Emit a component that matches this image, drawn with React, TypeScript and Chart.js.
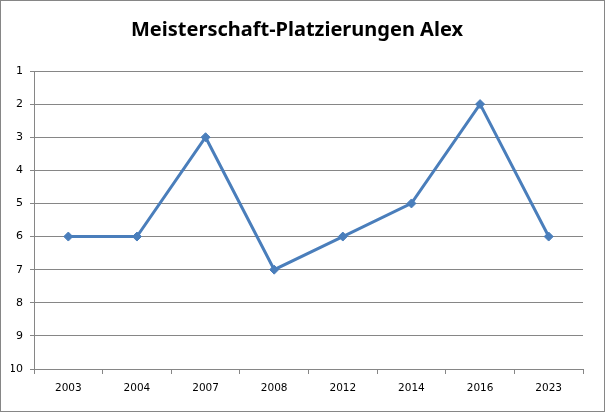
import React, { useEffect, useRef } from "react";
import { Chart, registerables } from "chart.js";

Chart.register(...registerables);

const title = "Meisterschaft-Platzierungen Alex";
const years = ["2003", "2004", "2007", "2008", "2012", "2014", "2016", "2023"];
const placements = [6, 6, 3, 7, 6, 5, 2, 6];
const rankMin = 1;
const rankMax = 10;

const borderPlugin = {
  id: "outerBorder",
  afterDraw(chart: any) {
    const ctx = chart.ctx;
    ctx.save();
    ctx.strokeStyle = "#868686";
    ctx.lineWidth = 1;
    ctx.strokeRect(0.5, 0.5, chart.width - 1, chart.height - 1);
    ctx.restore();
  },
};

export default function App() {
  const ref = useRef<HTMLCanvasElement>(null);
  useEffect(() => {
    document.body.style.margin = "0";
    const chart = new Chart(ref.current!, {
      type: "line",
      data: {
        labels: years,
        datasets: [
          {
            data: placements,
            borderColor: "#4A7EBB",
            backgroundColor: "#4A7EBB",
            borderWidth: 3,
            pointStyle: "rectRot",
            pointRadius: 4.5,
            pointBorderWidth: 1,
            tension: 0,
          },
        ],
      },
      options: {
        animation: false,
        responsive: false,
        maintainAspectRatio: false,
        layout: { padding: { left: 11, right: 22, top: 0, bottom: 0 } },
        plugins: {
          legend: { display: false },
          tooltip: { enabled: false },
          title: {
            display: true,
            text: title,
            color: "#000000",
            font: { family: "'Noto Sans', sans-serif", size: 20, weight: "bold", lineHeight: 1.2 },
            padding: { top: 18, bottom: 29 },
          },
        },
        scales: {
          x: {
            offset: true,
            grid: {
              offset: true,
              drawOnChartArea: false,
              drawTicks: true,
              tickLength: 5,
              color: "#868686",
            },
            border: { display: true, color: "#868686", width: 1 },
            ticks: {
              color: "#000000",
              font: { family: "'DejaVu Sans', sans-serif", size: 10.5 },
              padding: 8,
              maxRotation: 0,
            },
            afterFit(scale: any) {
              scale.height = 412 - 369;
            },
          },
          y: {
            reverse: true,
            min: rankMin,
            max: rankMax,
            grid: {
              color: "#868686",
              tickLength: 4,
              drawTicks: true,
            },
            border: { display: true, color: "#868686", width: 1 },
            ticks: {
              stepSize: 1,
              color: "#000000",
              font: { family: "'DejaVu Sans', sans-serif", size: 11 },
              padding: 7,
            },
            afterFit(scale: any) {
              scale.width = 23;
            },
          },
        },
      },
      plugins: [borderPlugin],
    });
    return () => chart.destroy();
  }, []);
  return (
    <div style={{ width: 605, height: 412 }}>
      <canvas ref={ref} width={605} height={412} style={{ display: "block" }} />
    </div>
  );
}
